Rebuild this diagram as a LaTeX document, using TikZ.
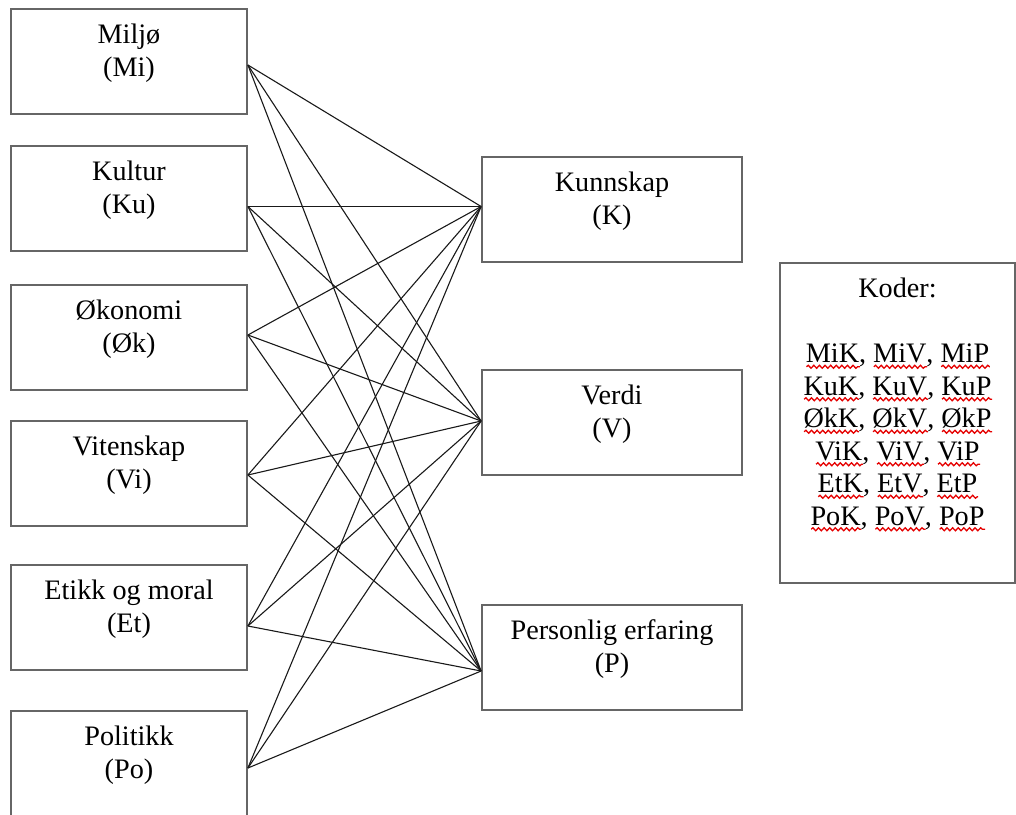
\documentclass[tikz,border=0pt]{standalone}
\usepackage{fontspec}
\setmainfont{Liberation Serif}
\usetikzlibrary{calc,decorations.pathmorphing}
\newsavebox\rwbox
\newlength\rwlen
\newcommand\rw[1]{\sbox\rwbox{#1}\setlength\rwlen{\wd\rwbox}\rlap{\raisebox{-3.2pt}{\tikz[x=1pt,y=1pt]\draw[red!90!black,line width=0.65pt,decorate,decoration={snake,amplitude=0.75pt,segment length=2.8pt}] (0pt,0pt) -- (\rwlen,0pt);}}\usebox\rwbox}
\begin{document}
\begin{tikzpicture}[x=0.5pt,y=-0.5pt,
  box/.style={draw=black!60, line width=0.9pt, rectangle, inner sep=0pt},
  lbox/.style={box, minimum width=118pt, minimum height=52.5pt},
  rbox/.style={box, minimum width=130pt, minimum height=52.5pt},
  txt/.style={anchor=north, yshift=-6.5pt, align=center, inner sep=0pt, font=\fontsize{14.1pt}{16.5pt}\selectfont},
  link/.style={line width=0.55pt, draw=black!90}]
\clip (0,0) rectangle (1016,814);
% left boxes
\node[lbox, label={[txt]north:{\rule{0pt}{11pt}Miljø\\(Mi)}}] (mi) at (129,61.5) {};
\node[lbox, label={[txt]north:{\rule{0pt}{11pt}Kultur\\(Ku)}}] (ku) at (129,198.5) {};
\node[lbox, label={[txt]north:{\rule{0pt}{11pt}Økonomi\\(Øk)}}] (ok) at (129,337.5) {};
\node[lbox, label={[txt]north:{\rule{0pt}{11pt}Vitenskap\\(Vi)}}] (vi) at (129,473.5) {};
\node[lbox, label={[txt]north:{\rule{0pt}{11pt}Etikk og moral\\(Et)}}] (et) at (129,617.5) {};
\node[lbox, label={[txt]north:{\rule{0pt}{11pt}Politikk\\(Po)}}] (po) at (129,763.5) {};
% right boxes
\node[rbox, label={[txt]north:{\rule{0pt}{11pt}Kunnskap\\(K)}}] (k) at (612,209.5) {};
\node[rbox, label={[txt]north:{\rule{0pt}{11pt}Verdi\\(V)}}] (v) at (612,422.5) {};
\node[rbox, label={[txt]north:{\rule{0pt}{11pt}Personlig erfaring\\(P)}}] (p) at (612,657.5) {};
% codes box
\node[box, minimum width=117.5pt, minimum height=160pt,
  label={[txt, font=\fontsize{14.1pt}{16.25pt}\selectfont]north:{\rule{0pt}{11pt}Koder:\\[16.25pt]
  \rw{MiK}, \rw{MiV}, \rw{MiP}\\
  \rw{KuK}, \rw{KuV}, \rw{KuP}\\
  \rw{ØkK}, \rw{ØkV}, \rw{ØkP}\\
  \rw{ViK}, \rw{ViV}, \rw{ViP}\\
  \rw{EtK}, \rw{EtV}, \rw{EtP}\\
  \rw{PoK}, \rw{PoV}, \rw{PoP}}}] (koder) at (897.5,423) {};
% ports
\coordinate (mi-p) at ($(mi.east)+(0,3.5)$);
\coordinate (ku-p) at ($(ku.east)+(0,8)$);
\coordinate (ok-p) at ($(ok.east)+(0,-2.5)$);
\coordinate (vi-p) at ($(vi.east)+(0,1.5)$);
\coordinate (et-p) at ($(et.east)+(0,8.5)$);
\coordinate (po-p) at ($(po.east)+(0,4.5)$);
\coordinate (k-p) at ($(k.west)+(0,-3)$);
\coordinate (v-p) at ($(v.west)+(0,-1.5)$);
\coordinate (p-p) at ($(p.west)+(0,13.5)$);
\foreach \a in {mi,ku,ok,vi,et,po}{
  \foreach \b in {k,v,p}{
    \draw[link] (\a-p) -- (\b-p);
  }
}
\end{tikzpicture}
\end{document}
